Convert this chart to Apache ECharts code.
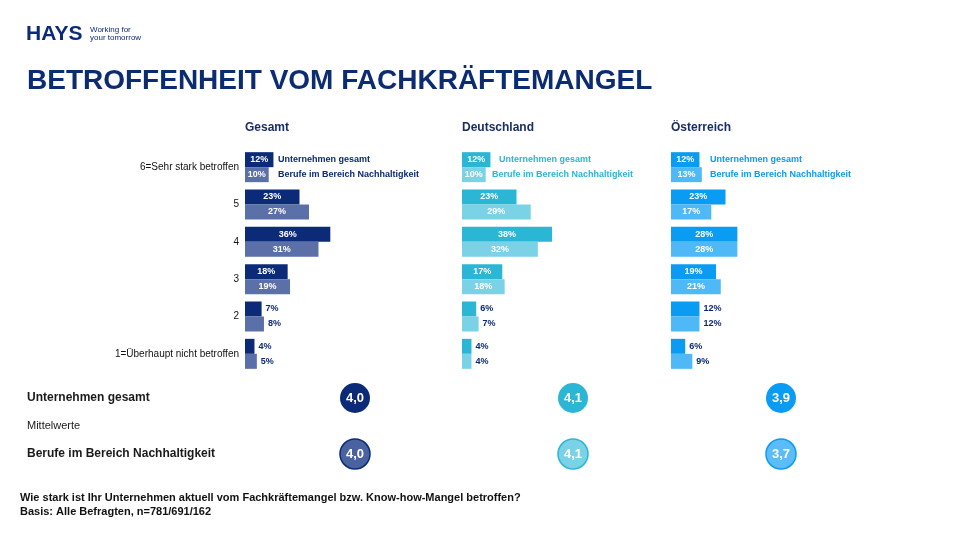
<!DOCTYPE html>
<html><head><meta charset="utf-8">
<script src="https://cdn.jsdelivr.net/npm/echarts@6/dist/echarts.min.js"></script>
<style>html,body{margin:0;padding:0;background:#fff}#c{width:960px;height:540px}</style>
</head><body><div id="c"></div>
<script>
const categories = ['6=Sehr stark betroffen','5','4','3','2','1=Überhaupt nicht betroffen'];
const panels = ['Gesamt','Deutschland','Österreich'];
const seriesNames = ['Unternehmen gesamt','Berufe im Bereich Nachhaltigkeit'];
const unternehmenGesamt = [12,23,36,18,7,4];
const berufeGesamt = [10,27,31,19,8,5];
const unternehmenDE = [12,23,38,17,6,4];
const berufeDE = [10,29,32,18,7,4];
const unternehmenAT = [12,23,28,19,12,6];
const berufeAT = [13,17,28,21,12,9];
const meanRows = ['Unternehmen gesamt','Mittelwerte','Berufe im Bereich Nachhaltigkeit'];
const meanUnternehmen = [4.0,4.1,3.9];
const meanBerufe = [4.0,4.1,3.7];

const NAVY = '#0b2a74';
const FONT = 'Liberation Sans, Arial, sans-serif';
const panelData = [[unternehmenGesamt, berufeGesamt],[unternehmenDE, berufeDE],[unternehmenAT, berufeAT]];
const colors = [['#0b2a78','#5b6fa8'],['#2bb6d6','#7bd2e7'],['#0a9cf2','#4fb9f7']];
const legendColors = [NAVY,'#2bb6d6','#0a9cf2'];
const panelLeft = [245,462,671];
const circleX = [355,573,781];
const gridTop = 148.5, gridH = 224, gridW = 118.5, xMax = 50;

const grids=[], xAxes=[], yAxes=[], series=[], graphics=[];
panels.forEach((p,i)=>{
  grids.push({left:panelLeft[i], top:gridTop, width:gridW, height:gridH, containLabel:false});
  xAxes.push({type:'value', gridIndex:i, min:0, max:xMax, show:false});
  yAxes.push({type:'category', gridIndex:i, data:categories, inverse:true,
    axisLine:{show:false}, axisTick:{show:false}, splitLine:{show:false},
    axisLabel:{show:i===0, margin:6, fontSize:10, color:'#111', fontFamily:FONT}});
  panelData[i].forEach((arr,s)=>{
    series.push({type:'bar', name:seriesNames[s], xAxisIndex:i, yAxisIndex:i,
      barWidth:15, barGap:'0%', itemStyle:{color:colors[i][s]},
      data:arr.map((v,k)=> k>=4 ? {value:v, label:{position:'right', color:NAVY, distance:4}} : v),
      label:{show:true, position:'inside', formatter:'{c}%', color:'#fff', fontWeight:'bold', fontSize:9, fontFamily:FONT},
      silent:true, animation:false});
  });
  graphics.push({type:'text', left:panelLeft[i], top:122, style:{text:p, fontSize:12, fontWeight:'bold', fill:'#1a2d6b', fontFamily:FONT}});
});

// legend texts next to first row
const legendPos = [[[278,160],[278,175]],[[499,160],[492,175]],[[710,160],[710,175]]];
legendPos.forEach((pp,i)=>{
  pp.forEach((xy,s)=>{
    graphics.push({type:'text', x:xy[0], y:xy[1], style:{text:seriesNames[s], fontSize:9, fontWeight:'bold', fill:legendColors[i], fontFamily:FONT, textVerticalAlign:'middle'}});
  });
});

// mean value circles
const circleFill = [['#0b2a78','#4a62a0'],['#2bb6d6','#7bd2e7'],['#0a9cf2','#5bbcf7']];
const circleBorder = [['#0b2a78','#0b2a78'],['#2bb6d6','#2bb6d6'],['#0a9cf2','#0a9cf2']];
panels.forEach((p,i)=>{
  const gi = 3+i;
  grids.push({left:circleX[i]-15, top:384, width:30, height:84});
  xAxes.push({type:'category', gridIndex:gi, data:[p], show:false});
  yAxes.push({type:'category', gridIndex:gi, data:meanRows, inverse:true,
    axisLine:{show:false}, axisTick:{show:false}, splitLine:{show:false},
    axisLabel:{show:i===0, align:'left', margin:circleX[0]-15-27, fontFamily:FONT,
      formatter:(v,idx)=> idx===1 ? '{n|'+v+'}' : '{b|'+v+'}',
      rich:{b:{fontSize:12, fontWeight:'bold', color:'#1a1a1a', fontFamily:FONT}, n:{fontSize:11, color:'#1a1a1a', fontFamily:FONT}}}});
  series.push({type:'scatter', xAxisIndex:gi, yAxisIndex:gi, symbol:'circle', symbolSize:30,
    data:[
      {value:[0,0,meanUnternehmen[i]], itemStyle:{color:circleFill[i][0], borderColor:circleBorder[i][0], borderWidth:0, opacity:1}},
      {value:[0,2,meanBerufe[i]], itemStyle:{color:circleFill[i][1], borderColor:circleBorder[i][1], borderWidth:1.5, opacity:1}}
    ],
    itemStyle:{opacity:1},
    label:{show:true, position:'inside', color:'#fff', fontWeight:'bold', fontSize:13, fontFamily:FONT,
      formatter:(pr)=> pr.value[2].toFixed(1).replace('.',',')},
    silent:true, animation:false});
});

// logo
graphics.push({type:'text', left:26, top:24, style:{text:'HAYS', fontSize:21, fontWeight:'bold', fill:'#0b2a78', fontFamily:FONT}});
graphics.push({type:'text', left:90, top:26, style:{text:'Working for\nyour tomorrow', fontSize:8, lineHeight:8, fill:'#0b2a78', fontFamily:FONT}});
// footnote
graphics.push({type:'text', left:20, top:491, style:{text:'Wie stark ist Ihr Unternehmen aktuell vom Fachkräftemangel bzw. Know-how-Mangel betroffen?\nBasis: Alle Befragten, n=781/691/162', fontSize:11, lineHeight:14, fontWeight:'bold', fill:'#111', fontFamily:FONT}});

const chart = echarts.init(document.getElementById('c'));
chart.setOption({
  backgroundColor:'#fff',
  animation:false,
  title:{text:'BETROFFENHEIT VOM FACHKRÄFTEMANGEL', left:27, top:67, padding:0, textStyle:{fontSize:28, fontWeight:'bold', color:'#0c2c72', fontFamily:FONT}},
  grid:grids, xAxis:xAxes, yAxis:yAxes, series:series, graphic:graphics
});
</script></body></html>
